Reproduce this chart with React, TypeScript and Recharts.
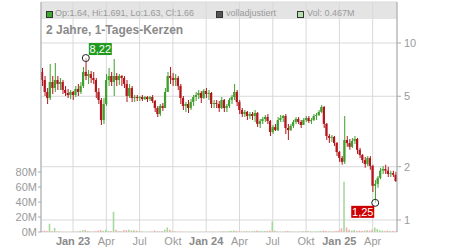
import React from "react";
import { ComposedChart, Bar, XAxis, YAxis, CartesianGrid, Cell, ReferenceDot } from "recharts";

// weekly candles, Oct 2022 – Jun 2025
const opens = [
  6.86, 6.18, 5.29, 4.89, 6.02, 5.57, 6.18, 5.87, 6.02, 5.43,
  5.22, 5.08, 5.29, 5.08, 5.50, 5.29, 5.72, 6.86, 6.51, 6.68,
  6.34, 6.18, 5.29, 4.76, 3.67, 4.52, 6.18, 6.51, 6.02, 6.51,
  6.18, 6.51, 6.34, 5.87, 5.02, 5.57, 4.89, 4.95, 4.89, 4.95,
  4.82, 4.95, 4.82, 4.95, 4.70, 4.29, 3.97, 4.41, 4.29, 5.29,
  6.51, 6.34, 6.18, 6.34, 5.72, 4.89, 4.41, 4.52, 4.29, 4.64,
  4.95, 5.08, 5.22, 4.89, 5.36, 5.15, 5.22, 4.52, 4.58, 4.52,
  4.29, 4.76, 4.29, 4.41, 4.76, 4.95, 5.29, 4.64, 4.18, 3.97,
  4.08, 3.87, 3.97, 3.87, 4.02, 3.49, 3.62, 3.72, 3.82, 3.62,
  3.14, 3.35, 3.22, 3.67, 3.77, 3.87, 3.31, 3.22, 3.40, 3.58,
  3.72, 3.58, 3.44, 3.67, 3.77, 3.62, 3.67, 3.87, 3.92, 4.08,
  4.35, 3.49, 2.98, 2.91, 2.95, 2.72, 2.42, 2.24, 2.13, 2.83,
  2.72, 2.59, 2.80, 2.87, 2.49, 2.33, 2.18, 2.07, 2.24, 2.02,
  1.56, 1.60, 1.73, 1.90, 1.94, 1.90, 1.82, 1.84, 1.80,
];
const highs = [
  7.22, 6.51, 5.57, 7.61, 6.51, 7.71, 6.51, 6.34, 6.18, 5.72,
  5.50, 5.43, 5.36, 5.72, 5.87, 6.02, 7.32, 8.22, 7.04, 6.95,
  6.86, 6.34, 5.57, 4.89, 4.89, 6.68, 7.22, 6.86, 8.12, 6.77,
  6.68, 6.60, 6.51, 6.18, 5.87, 5.72, 5.08, 5.08, 5.02, 5.08,
  5.02, 5.02, 5.02, 5.08, 4.76, 4.41, 4.52, 4.58, 5.57, 6.86,
  7.32, 6.77, 6.68, 6.51, 5.87, 5.02, 4.64, 4.76, 4.82, 5.08,
  5.29, 5.43, 5.36, 5.50, 5.57, 5.43, 5.29, 4.76, 4.76, 4.70,
  4.95, 4.82, 4.52, 4.89, 5.08, 5.87, 5.43, 4.76, 4.29, 4.18,
  4.13, 4.08, 4.08, 4.18, 4.08, 3.72, 3.82, 3.92, 3.97, 3.67,
  3.44, 3.49, 3.82, 3.92, 3.92, 3.97, 3.49, 3.49, 3.67, 3.82,
  3.82, 3.67, 3.77, 3.87, 3.87, 3.77, 3.97, 4.02, 4.18, 4.46,
  4.41, 3.53, 3.06, 3.02, 2.98, 2.76, 2.45, 2.30, 3.87, 2.98,
  2.87, 2.91, 2.98, 2.91, 2.55, 2.36, 2.27, 2.30, 2.30, 2.05,
  1.68, 1.77, 1.97, 2.02, 2.05, 1.99, 1.90, 1.90, 1.87,
];
const lows = [
  5.72, 5.02, 4.52, 4.76, 5.15, 5.29, 5.43, 5.43, 5.15, 5.02,
  4.89, 4.82, 4.76, 4.95, 5.02, 5.15, 5.57, 6.18, 5.87, 5.95,
  5.87, 4.89, 4.52, 3.44, 3.49, 4.41, 5.72, 5.72, 5.02, 5.72,
  5.79, 5.72, 5.57, 4.64, 4.89, 4.64, 4.64, 4.70, 4.70, 4.70,
  4.76, 4.64, 4.70, 4.58, 4.08, 3.82, 3.87, 4.13, 4.29, 5.29,
  5.87, 5.72, 5.72, 5.43, 4.52, 4.18, 4.08, 4.02, 4.18, 4.41,
  4.70, 4.82, 4.58, 4.82, 4.89, 4.76, 4.29, 4.29, 4.29, 4.08,
  4.24, 4.08, 4.08, 4.29, 4.52, 4.76, 4.41, 3.97, 3.82, 3.82,
  3.67, 3.72, 3.67, 3.58, 3.35, 3.31, 3.49, 3.58, 3.49, 2.98,
  3.06, 3.18, 3.18, 3.58, 3.58, 3.06, 2.83, 3.18, 3.31, 3.49,
  3.49, 3.31, 3.44, 3.58, 3.53, 3.49, 3.62, 3.67, 3.87, 4.02,
  3.31, 2.83, 2.72, 2.76, 2.62, 2.30, 2.13, 2.05, 2.07, 2.59,
  2.49, 2.55, 2.69, 2.36, 2.24, 2.10, 1.97, 2.02, 1.92, 1.44,
  1.25, 1.52, 1.70, 1.82, 1.82, 1.75, 1.75, 1.75, 1.64,
];
const closes = [
  6.18, 5.29, 4.89, 6.02, 5.57, 6.18, 5.87, 6.02, 5.43, 5.22,
  5.08, 5.29, 5.08, 5.50, 5.29, 5.72, 6.86, 6.51, 6.68, 6.34,
  6.18, 5.29, 4.76, 3.67, 4.52, 6.18, 6.51, 6.02, 6.51, 6.18,
  6.51, 6.34, 5.87, 5.02, 5.57, 4.89, 4.95, 4.89, 4.95, 4.82,
  4.95, 4.82, 4.95, 4.70, 4.29, 3.97, 4.41, 4.29, 5.29, 6.51,
  6.34, 6.18, 6.34, 5.72, 4.89, 4.41, 4.52, 4.29, 4.64, 4.95,
  5.08, 5.22, 4.89, 5.36, 5.15, 5.22, 4.52, 4.58, 4.52, 4.29,
  4.76, 4.29, 4.41, 4.76, 4.95, 5.29, 4.64, 4.18, 3.97, 4.08,
  3.87, 3.97, 3.87, 4.02, 3.49, 3.62, 3.72, 3.82, 3.62, 3.14,
  3.35, 3.22, 3.67, 3.77, 3.87, 3.31, 3.22, 3.40, 3.58, 3.72,
  3.58, 3.44, 3.67, 3.77, 3.62, 3.67, 3.87, 3.92, 4.08, 4.35,
  3.49, 2.98, 2.91, 2.95, 2.72, 2.42, 2.24, 2.13, 2.83, 2.72,
  2.59, 2.80, 2.87, 2.49, 2.33, 2.18, 2.07, 2.24, 2.02, 1.56,
  1.60, 1.73, 1.90, 1.94, 1.90, 1.82, 1.84, 1.80, 1.66,
];
// volume in millions
const volumes = [
  1.5, 2.0, 1.2, 11, 1.5, 5.5, 1.0, 0.8, 0.6, 0.5,
  0.5, 0.4, 0.5, 0.6, 0.8, 1.5, 2.5, 3.0, 1.2, 0.8,
  0.6, 1.0, 2.0, 2.5, 1.5, 3.0, 1.5, 1.5, 27, 3.0,
  1.5, 1.0, 2.5, 2.5, 3.0, 2.0, 2.5, 2.0, 1.0, 1.2,
  0.5, 0.5, 0.6, 0.8, 2.0, 1.0, 1.0, 1.5, 3.0, 6.0,
  3.0, 1.5, 1.0, 0.6, 0.8, 0.5, 0.5, 0.4, 0.5, 0.4,
  0.4, 0.5, 0.4, 0.5, 0.6, 0.5, 0.8, 0.6, 0.5, 0.6,
  0.8, 1.0, 0.8, 1.2, 1.5, 2.0, 1.5, 1.0, 0.8, 1.0,
  1.2, 0.8, 1.0, 1.5, 2.0, 1.5, 1.0, 1.5, 1.2, 2.0,
  14, 2.0, 1.0, 0.8, 0.6, 1.0, 1.5, 0.8, 0.6, 0.5,
  0.6, 0.8, 1.0, 1.2, 1.5, 0.8, 0.6, 0.8, 1.0, 1.2,
  2.0, 1.5, 1.0, 0.8, 1.0, 1.5, 2.0, 5.0, 67, 6.0,
  3.0, 2.0, 2.5, 1.5, 2.0, 1.5, 2.0, 2.5, 2.0, 3.5,
  6.0, 4.0, 2.5, 2.0, 1.5, 2.0, 1.5, 1.5, 1.0,
];
const firstWeek = [2022, 9, 10]; // Monday of the first week (UTC, month 0-based)
const tickWeeks = [12, 25, 38, 51, 64, 77, 90, 103, 116, 129];
const tickLabels = ["Jan 23", "Apr", "Jul", "Okt", "Jan 24", "Apr", "Jul", "Okt", "Jan 25", "Apr"];
const priceTicks = [1, 2, 5, 10];
const volTicks = [0, 20, 40, 60, 80];
const priceDomain = [0.8554, 17.04];
const volDomain = [0, 306.7];

const GREEN = "#3f9f2c";
const RED = "#b3151b";
const FONT = "Arial, 'Liberation Sans', sans-serif";
const X_LABEL_BASELINE = 245;

function weekName(i: number): string {
  const d = new Date(Date.UTC(firstWeek[0], firstWeek[1], firstWeek[2]));
  d.setUTCDate(d.getUTCDate() + 7 * i);
  return d.toISOString().slice(0, 10);
}

const data = opens.map((o, i) => ({
  d: weekName(i),
  wick: [lows[i], highs[i]],
  body: [Math.min(o, closes[i]), Math.max(o, closes[i])],
  vol: volumes[i],
  up: closes[i] >= o,
}));

const tickCats = tickWeeks.map((w) => weekName(w));

let hiIdx = 0;
let loIdx = 0;
highs.forEach((h, i) => { if (h > highs[hiIdx]) hiIdx = i; });
lows.forEach((l, i) => { if (l < lows[loIdx]) loIdx = i; });

const fmt = (v: number) => v.toFixed(2).replace(".", ",");

const XTick = (props: any) => {
  const { x, payload } = props;
  const idx = tickCats.indexOf(payload.value);
  const label = idx >= 0 ? tickLabels[idx] : "";
  const bold = label.startsWith("Jan");
  return (
    <text x={x} y={X_LABEL_BASELINE} textAnchor="middle" fontSize={11} fontFamily={FONT}
      fontWeight={bold ? "bold" : "normal"} fill={bold ? "#8a8a8a" : "#9a9a9a"}>
      {label}
    </text>
  );
};

const HiMarker = (props: any) => {
  const { cx, cy } = props;
  return (
    <g>
      <circle cx={cx} cy={cy} r={3.5} fill="rgba(255,255,255,0.5)" stroke="#222" strokeWidth={1} />
      <rect x={cx + 3} y={cy - 15} width={23} height={12} fill="#1f9a1f" />
      <text x={cx + 14.5} y={cy - 5} textAnchor="middle" fontSize={11} fontFamily={FONT} fill="#fff">
        {fmt(highs[hiIdx])}
      </text>
    </g>
  );
};

const LoMarker = (props: any) => {
  const { cx, cy } = props;
  return (
    <g>
      <circle cx={cx} cy={cy} r={3.5} fill="rgba(255,255,255,0.5)" stroke="#222" strokeWidth={1} />
      <rect x={cx - 24} y={cy + 3} width={23} height={12} fill="#cc0000" />
      <text x={cx - 12.5} y={cy + 13} textAnchor="middle" fontSize={11} fontFamily={FONT} fill="#fff">
        {fmt(lows[loIdx])}
      </text>
    </g>
  );
};

const legendText: React.CSSProperties = {
  position: "absolute", top: 9, fontSize: 9, lineHeight: "9px", color: "#9a9a9a", fontFamily: FONT, whiteSpace: "nowrap",
};
const sq = (left: number, bg: string): React.CSSProperties => ({
  position: "absolute", left, top: 11, width: 5, height: 5, background: bg, border: "1px solid #333",
});

export default function App() {
  return (
    <div style={{ position: "absolute", left: 0, top: 0, width: 450, height: 250, background: "#fff", fontFamily: FONT }}>
      <div style={{ position: "absolute", left: 41, top: 2, width: 356, height: 17, background: "#e4e4e4" }} />
      <div style={{ position: "absolute", left: 0, top: 0, zIndex: 1 }}>
        <ComposedChart width={450} height={250} data={data} margin={{ top: 2, right: 0, bottom: 0, left: 0 }}>
          <CartesianGrid xAxisId="main" yAxisId="price" stroke="#d9d9d9" />
          <XAxis xAxisId="main" dataKey="d" ticks={tickCats} interval={0} tick={<XTick />} tickSize={3}
            height={18} axisLine={{ stroke: "#aaa" }} tickLine={{ stroke: "#aaa" }} />
          <XAxis xAxisId="body" dataKey="d" hide />
          <XAxis xAxisId="vol" dataKey="d" hide />
          <YAxis yAxisId="vol" orientation="left" width={41} domain={volDomain} ticks={volTicks} interval={0}
            allowDataOverflow tickFormatter={(v: number) => `${v}M`} tickSize={3} tickMargin={1}
            tick={{ fontSize: 11, fill: "#9a9a9a", fontFamily: FONT }} axisLine={{ stroke: "#aaa" }} tickLine={{ stroke: "#aaa" }} />
          <YAxis yAxisId="price" orientation="right" width={53} scale="log" domain={priceDomain} ticks={priceTicks} interval={0}
            allowDataOverflow tickFormatter={(v: number) => `${v}`} tickSize={4} tickMargin={3}
            tick={{ fontSize: 11, fill: "#9a9a9a", fontFamily: FONT }} axisLine={{ stroke: "#aaa" }} tickLine={{ stroke: "#aaa" }} />
          <Bar xAxisId="vol" yAxisId="vol" dataKey="vol" barSize={1.6} isAnimationActive={false}>
            {data.map((e, i) => <Cell key={i} fill={e.up ? "#a6d99c" : "#f0b0b0"} />)}
          </Bar>
          <Bar xAxisId="main" yAxisId="price" dataKey="wick" barSize={1} isAnimationActive={false}>
            {data.map((e, i) => <Cell key={i} fill={e.up ? GREEN : RED} />)}
          </Bar>
          <Bar xAxisId="body" yAxisId="price" dataKey="body" barSize={2.2} isAnimationActive={false}>
            {data.map((e, i) => <Cell key={i} fill={e.up ? GREEN : RED} />)}
          </Bar>
          <ReferenceDot xAxisId="main" yAxisId="price" x={data[hiIdx].d} y={highs[hiIdx]} r={3.5}
            shape={(p: any) => <HiMarker {...p} />} />
          <ReferenceDot xAxisId="main" yAxisId="price" x={data[loIdx].d} y={lows[loIdx]} r={3.5}
            shape={(p: any) => <LoMarker {...p} />} />
        </ComposedChart>
      </div>
      <div style={{ position: "absolute", left: 0, top: 0, width: 450, height: 40, zIndex: 2, pointerEvents: "none" }}>
        <div style={sq(46, "#3ca82c")} />
        <div style={{ ...legendText, left: 55 }}>Op:1.64, Hi:1.691, Lo:1.63, Cl:1.66</div>
        <div style={sq(216, "#555")} />
        <div style={{ ...legendText, left: 226 }}>volladjustiert</div>
        <div style={sq(297, "#b5e0ac")} />
        <div style={{ ...legendText, left: 307 }}>Vol: 0.467M</div>
        <div style={{ position: "absolute", left: 46, top: 24, fontSize: 12, lineHeight: "12px", fontWeight: "bold", color: "#8a8a8a", fontFamily: FONT, whiteSpace: "nowrap" }}>
          2 Jahre, 1-Tages-Kerzen
        </div>
      </div>
    </div>
  );
}
